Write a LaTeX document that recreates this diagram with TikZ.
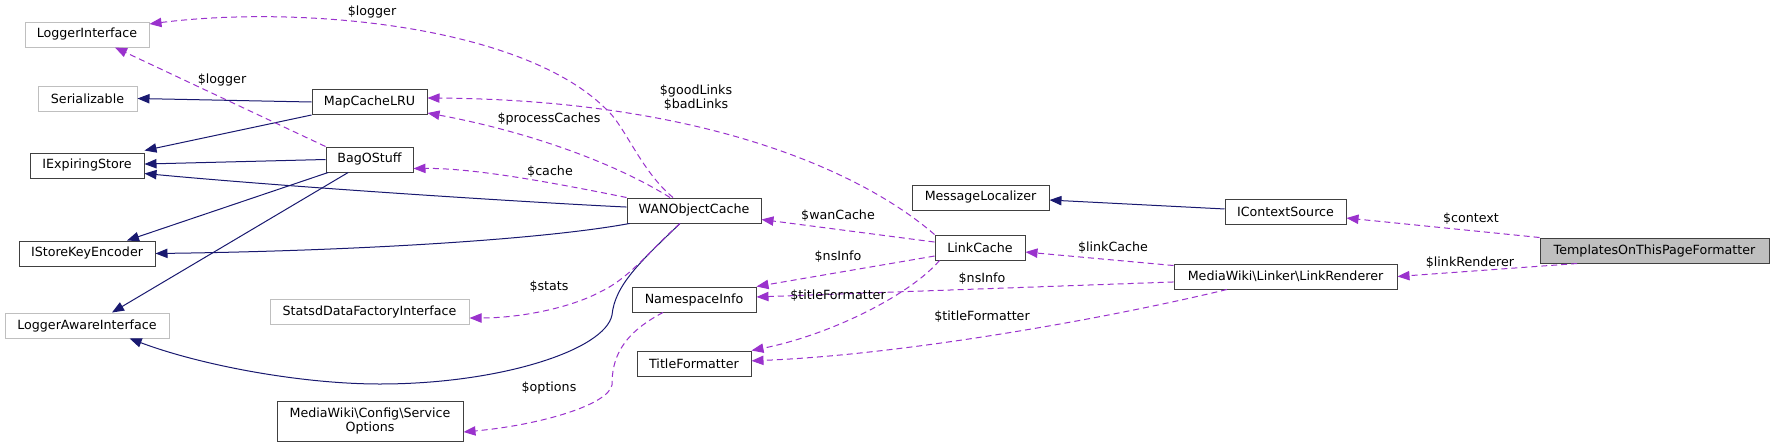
\documentclass[tikz,border=0pt]{standalone}
\usepackage{fontspec}
\setmainfont{DejaVu Sans}
\usepackage{tikz}
\usetikzlibrary{arrows.meta}
\definecolor{edgenavy}{RGB}{25, 25, 112}
\definecolor{edgeorchid}{RGB}{154, 50, 205}
\definecolor{extgray}{RGB}{191, 191, 191}
\definecolor{boxgray}{RGB}{64, 64, 64}

\begin{document}
\begin{tikzpicture}[x=0.75pt, y=-0.75pt,
  cls/.style={rectangle, draw=boxgray, line width=0.75pt, fill=white, minimum height=18.75pt,
    inner sep=0pt, font=\fontsize{9.5}{10.5}\selectfont, align=center},
  extcls/.style={cls, draw=extgray},
  curcls/.style={cls, fill=extgray},
  inherit/.style={-{Triangle[length=9pt, width=7pt]}, line width=0.75pt, edgenavy},
  usage/.style={-{Triangle[length=9pt, width=7pt]}, line width=0.75pt, edgeorchid, dash pattern=on 4.5pt off 3pt},
  lbl/.style={font=\fontsize{9.5}{10.5}\selectfont, inner sep=0pt, align=center}
]
\path[use as bounding box, fill=white] (0,0) rectangle (1775,447);

% Left column
\node[extcls, minimum width=93pt] (loggeri) at (87,34.5) {LoggerInterface};
\node[extcls, minimum width=74.25pt] (serial) at (87.5,98.5) {Serializable};
\node[cls, minimum width=85.5pt] (expiring) at (87,165.5) {IExpiringStore};
\node[cls, minimum width=102pt] (keyenc) at (87,253.5) {IStoreKeyEncoder};
\node[extcls, minimum width=123pt] (loggeraware) at (87,325.5) {LoggerAwareInterface};

% Second column
\node[cls, minimum width=86.25pt] (mapcache) at (369.5,102) {MapCacheLRU};
\node[cls, minimum width=65.25pt] (bag) at (369.5,159.5) {BagOStuff};
\node[extcls, minimum width=149.25pt] (statsd) at (369.5,312) {StatsdDataFactoryInterface};
\node[cls, minimum width=139.5pt, minimum height=30pt] (svcopts) at (370,421) {MediaWiki\textbackslash Config\textbackslash Service\\Options};

% Middle column
\node[cls, minimum width=100.5pt] (wan) at (694,210.5) {WANObjectCache};
\node[cls, minimum width=93pt] (nsinfo) at (694,299.5) {NamespaceInfo};
\node[cls, minimum width=85.5pt] (titlefmt) at (694,363.5) {TitleFormatter};
\node[cls, minimum width=102.75pt] (msgloc) at (980.5,197.5) {MessageLocalizer};
\node[cls, minimum width=67.5pt] (linkcache) at (980,247.5) {LinkCache};

% Right side
\node[cls, minimum width=90.75pt] (ctxsrc) at (1285.5,211.5) {IContextSource};
\node[cls, minimum width=167.25pt] (linkrend) at (1285.5,276.5) {MediaWiki\textbackslash Linker\textbackslash LinkRenderer};
\node[curcls, minimum width=171.75pt] (tplfmt) at (1654.5,250.5) {TemplatesOnThisPageFormatter};

% Inheritance
\draw[inherit] (mapcache.west) -- (serial.east);
\draw[inherit] (mapcache.south west) -- ([yshift=1.5pt]expiring.north east);
\draw[inherit] (bag.west) -- ([yshift=1.1pt]expiring.east);
\draw[inherit] ([xshift=2pt]bag.south west) -- ([xshift=30pt]keyenc.north);
\draw[inherit] ([xshift=-16pt]bag.south) -- ([xshift=18.75pt]loggeraware.north);
\draw[inherit] ([yshift=2.6pt]wan.west) .. controls (540,203) and (300,188) .. ([yshift=3.75pt]expiring.south east);
\draw[inherit] ([xshift=2.25pt]wan.south west) .. controls (540,240) and (350,251) .. (keyenc.east);
\draw[inherit] ([xshift=-10.5pt]wan.south) .. controls (640,262) and (615,285) .. (612,315)
  .. controls (605,350) and (500,384) .. (380,384) .. controls (300,384) and (200,365) .. ([xshift=32pt]loggeraware.south);
\draw[inherit] ([yshift=1.9pt]ctxsrc.west) -- ([yshift=-1.9pt]msgloc.east);

% Usage
\draw[usage] ([xshift=-15.75pt]wan.north) .. controls (640,170) and (625,125) .. (605,108)
  .. controls (520,25) and (300,5) .. ([yshift=7.9pt]loggeri.east);
\draw[usage] (bag.north west) -- ([xshift=21pt]loggeri.south);
\draw[usage] ([xshift=-18pt]wan.north) .. controls (610,160) and (520,130) .. ([yshift=1.5pt]mapcache.south east);
\draw[usage] (linkcache.north west) .. controls (860,170) and (700,100) .. ([yshift=3pt]mapcache.east);
\draw[usage] (wan.north west) .. controls (540,180) and (470,168) .. ([yshift=3pt]bag.south east);
\draw[usage] ([xshift=-10.5pt]wan.south) .. controls (650,250) and (630,278) .. (600,292)
  .. controls (570,308) and (520,318) .. ([yshift=-4.5pt]statsd.east);
\draw[usage] ([yshift=4.1pt]linkcache.west) -- ([yshift=-6.75pt]wan.east);
\draw[usage] ([yshift=-6.4pt]linkcache.west) -- (nsinfo.north east);
\draw[usage] ([xshift=3.75pt]linkcache.south west) .. controls (910,295) and (830,335) .. (titlefmt.north east);
\draw[usage] ([xshift=-23.25pt]nsinfo.south) .. controls (620,335) and (612,360) .. (612,385)
  .. controls (608,405) and (540,425) .. ([yshift=-8.25pt]svcopts.east);
\draw[usage] ([yshift=-1.5pt]linkrend.north west) -- ([yshift=-3.4pt]linkcache.east);
\draw[usage] ([yshift=-4.1pt]linkrend.west) -- ([yshift=1.9pt]nsinfo.east);
\draw[usage] ([xshift=-43.9pt]linkrend.south) .. controls (1100,320) and (900,355) .. ([yshift=2pt]titlefmt.east);
\draw[usage] (tplfmt.north west) -- ([yshift=-4.9pt]ctxsrc.east);
\draw[usage] ([xshift=-58pt]tplfmt.south) -- (linkrend.east);

% Edge labels
\node[lbl] (lblloggerwan) at (372,12) {\$logger};
\node[lbl] (lblloggerbag) at (222,80) {\$logger};
\node[lbl] (lblgoodbad) at (696,98) {\$goodLinks\\\$badLinks};
\node[lbl] (lblprocess) at (549,119) {\$processCaches};
\node[lbl] (lblcache) at (550,172) {\$cache};
\node[lbl] (lblwancache) at (838,216) {\$wanCache};
\node[lbl] (lblstats) at (549,287) {\$stats};
\node[lbl] (lblnsinfolc) at (838,257) {\$nsInfo};
\node[lbl] (lbltitlelc) at (838,296) {\$titleFormatter};
\node[lbl] (lbloptions) at (549,388) {\$options};
\node[lbl] (lbllinkcache) at (1113,248) {\$linkCache};
\node[lbl] (lblnsinfolr) at (982,279) {\$nsInfo};
\node[lbl] (lbltitlelr) at (982,317) {\$titleFormatter};
\node[lbl] (lblcontext) at (1471,219) {\$context};
\node[lbl] (lbllinkrend) at (1470,263) {\$linkRenderer};
\end{tikzpicture}
\end{document}
